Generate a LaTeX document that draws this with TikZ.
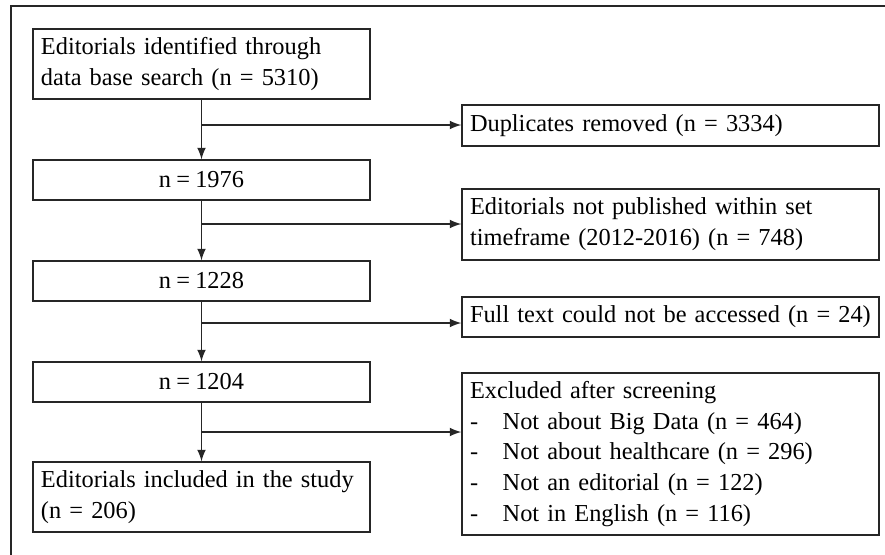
\documentclass[tikz,border=0pt]{standalone}
\usepackage{fontspec}
\setmainfont{Liberation Serif}[WordSpace=0.85]
\usepackage{tikz}
\usetikzlibrary{arrows,positioning,calc}
\tikzset{every node/.append style={font=\fontsize{10.4}{13.2}\selectfont}}
\tikzset{
  box/.style={draw=black!85, line width=0.6pt, minimum width=5.055cm, minimum height=0.6cm, inner xsep=0.12cm, inner ysep=0pt},
  textbox/.style={box, text width=4.815cm, align=left, minimum height=1.05cm},
  sidebox/.style={box, text width=6.015cm, align=left},
  link/.style={draw=black!85, line width=0.7pt, >=latex},
  frame/.style={draw=black!85, line width=1.1pt}
}
\newcommand{\exitem}[1]{\makebox[0.49cm][l]{-}#1}

\begin{document}
\begin{tikzpicture}
    \useasboundingbox (0,0) rectangle (13.275,-8.31);
    \draw[frame] (0.165,-8.4) -- (0.165,-0.09) -- (13.4,-0.09);

    % main column
    \node[textbox] (found) at (3.0225,-0.96) {Editorials identified through\\data base search (n = 5310)};
    \node[box] (n1976) at (3.0225,-2.7) {n = 1976};
    \node[box] (n1228) at (3.0225,-4.215) {n = 1228};
    \node[box] (n1204) at (3.0225,-5.73) {n = 1204};
    \node[textbox] (incl) at (3.0225,-7.455) {Editorials included in the study\\(n = 206)};

    % excluded column
    \node[sidebox, minimum height=0.615cm] (dup) at (10.0575,-1.8825) {Duplicates removed (n = 3334)};
    \node[sidebox, minimum height=1.065cm] (time) at (10.0575,-3.3675) {Editorials not published within set\\timeframe (2012-2016) (n = 748)};
    \node[sidebox] (full) at (10.0575,-4.755) {Full text could not be accessed (n = 24)};
    \node[sidebox, minimum height=2.43cm] (excl) at (10.0575,-6.81) {Excluded after screening\\
      \exitem{Not about Big Data (n = 464)}\\
      \exitem{Not about healthcare (n = 296)}\\
      \exitem{Not an editorial (n = 122)}\\
      \exitem{Not in English (n = 116)}};

    \coordinate (b1) at (3.0225,-1.875);
    \coordinate (b2) at (3.0225,-3.36);
    \coordinate (b3) at (3.0225,-4.845);
    \coordinate (b4) at (3.0225,-6.48);

    \draw[link,->] (found) -- (n1976);
    \draw[link,->] (n1976) -- (n1228);
    \draw[link,->] (n1228) -- (n1204);
    \draw[link,->] (n1204) -- (incl);
    \draw[link,->] (b1) -- (b1 -| dup.west);
    \draw[link,->] (b2) -- (b2 -| time.west);
    \draw[link,->] (b3) -- (b3 -| full.west);
    \draw[link,->] (b4) -- (b4 -| excl.west);
\end{tikzpicture}
\end{document}
